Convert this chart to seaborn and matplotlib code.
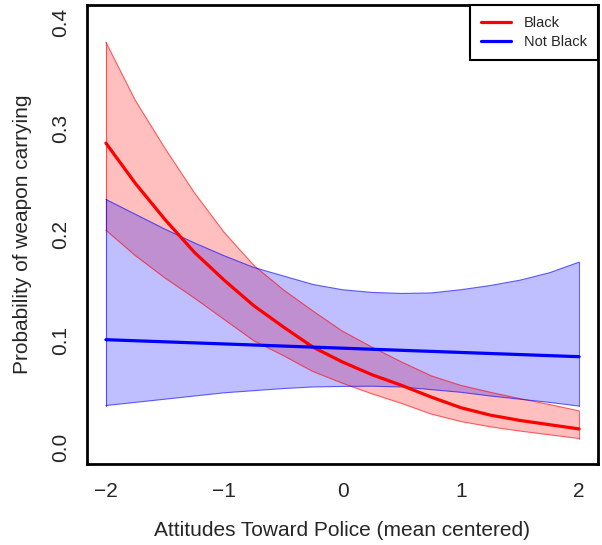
import matplotlib
matplotlib.use("Agg")
import matplotlib.pyplot as plt
from matplotlib.lines import Line2D
import seaborn as sns
import pandas as pd

# Data
x_vals = [-2, -1.75, -1.5, -1.25, -1, -0.75, -0.5, -0.25, 0,
          0.25, 0.5, 0.75, 1, 1.25, 1.5, 1.75, 2]

black_mean = [0.286, 0.248, 0.214, 0.183, 0.157, 0.133, 0.113, 0.094, 0.080,
              0.068, 0.058, 0.047, 0.037, 0.030, 0.025, 0.021, 0.017]
black_upper = [0.381, 0.326, 0.281, 0.239, 0.202, 0.171, 0.148, 0.128, 0.109,
               0.094, 0.080, 0.067, 0.058, 0.0515, 0.0455, 0.040, 0.034]
black_lower = [0.204, 0.180, 0.159, 0.140, 0.120, 0.100, 0.086, 0.071, 0.060,
               0.050, 0.041, 0.031, 0.024, 0.019, 0.015, 0.0115, 0.008]

notblack_mean = [0.101, 0.100, 0.099, 0.098, 0.097, 0.096, 0.095, 0.094, 0.093,
                 0.092, 0.091, 0.090, 0.089, 0.088, 0.087, 0.086, 0.085]
notblack_upper = [0.233, 0.219, 0.205, 0.192, 0.180, 0.169, 0.161, 0.153, 0.148,
                  0.1455, 0.1445, 0.145, 0.148, 0.152, 0.157, 0.164, 0.174]
notblack_lower = [0.039, 0.042, 0.045, 0.048, 0.051, 0.053, 0.055, 0.0565, 0.057,
                  0.0572, 0.0565, 0.054, 0.0515, 0.048, 0.045, 0.042, 0.0385]

groups = ["Black", "Not Black"]
colors = {"Black": "#ff0000", "Not Black": "#0000ff"}

x_ticks = [-2, -1, 0, 1, 2]
y_ticks = [0.0, 0.1, 0.2, 0.3, 0.4]

df = pd.DataFrame({
    "x": x_vals * 2,
    "p": black_mean + notblack_mean,
    "lo": black_lower + notblack_lower,
    "hi": black_upper + notblack_upper,
    "group": ["Black"] * len(x_vals) + ["Not Black"] * len(x_vals),
})

sns.set_style("white")
plt.rcParams["font.family"] = ["Liberation Sans", "DejaVu Sans"]

fig = plt.figure(figsize=(6.02, 5.45), dpi=100)
ax = fig.add_axes([87 / 602, 1 - 464 / 545, (598 - 87) / 602, (464 - 5) / 545])

for g in groups:
    sub = df[df["group"] == g]
    c = colors[g]
    ax.fill_between(sub["x"], sub["lo"], sub["hi"], facecolor=c, alpha=0.25,
                    edgecolor="none", zorder=1)
    ax.plot(sub["x"], sub["hi"], color=c, lw=0.8, alpha=0.6, zorder=2)
    ax.plot(sub["x"], sub["lo"], color=c, lw=0.8, alpha=0.6, zorder=2)
    ax.plot([sub["x"].iloc[0]] * 2, [sub["lo"].iloc[0], sub["hi"].iloc[0]],
            color=c, lw=0.8, alpha=0.6, zorder=2)
    ax.plot([sub["x"].iloc[-1]] * 2, [sub["lo"].iloc[-1], sub["hi"].iloc[-1]],
            color=c, lw=0.8, alpha=0.6, zorder=2)

sns.lineplot(data=df, x="x", y="p", hue="group", palette=colors,
             hue_order=groups, linewidth=2.3, ax=ax, zorder=3, legend=False)

ax.set_xlim(-2.16, 2.16)
ax.set_ylim(-0.016, 0.416)
ax.set_xticks(x_ticks)
ax.set_yticks(y_ticks)
ax.set_xticklabels([f"{t:g}".replace("-", "\u2212") for t in x_ticks])
ax.set_yticklabels([f"{t:.1f}" for t in y_ticks], rotation=90, va="center")
ax.tick_params(axis="both", direction="out", length=7, width=0.9,
               color="#555555", labelsize=15, pad=5)
ax.tick_params(axis="x", pad=6)
for s in ax.spines.values():
    s.set_visible(True)
    s.set_color("black")
    s.set_linewidth(2.0)

ax.set_xlabel("Attitudes Toward Police (mean centered)", fontsize=15, labelpad=14)
ax.set_ylabel("Probability of weapon carrying", fontsize=15, labelpad=14)

handles = [Line2D([0], [0], color=colors[g], lw=2.3) for g in groups]
leg = ax.legend(handles, groups, loc="upper right", fontsize=10.5,
                frameon=True, fancybox=False, borderaxespad=0,
                handlelength=2.05, handletextpad=0.9, borderpad=0.75,
                labelspacing=0.35)
leg.get_frame().set_edgecolor("black")
leg.get_frame().set_linewidth(1.5)
leg.get_frame().set_alpha(1)

fig.savefig("out.png", dpi=100)
